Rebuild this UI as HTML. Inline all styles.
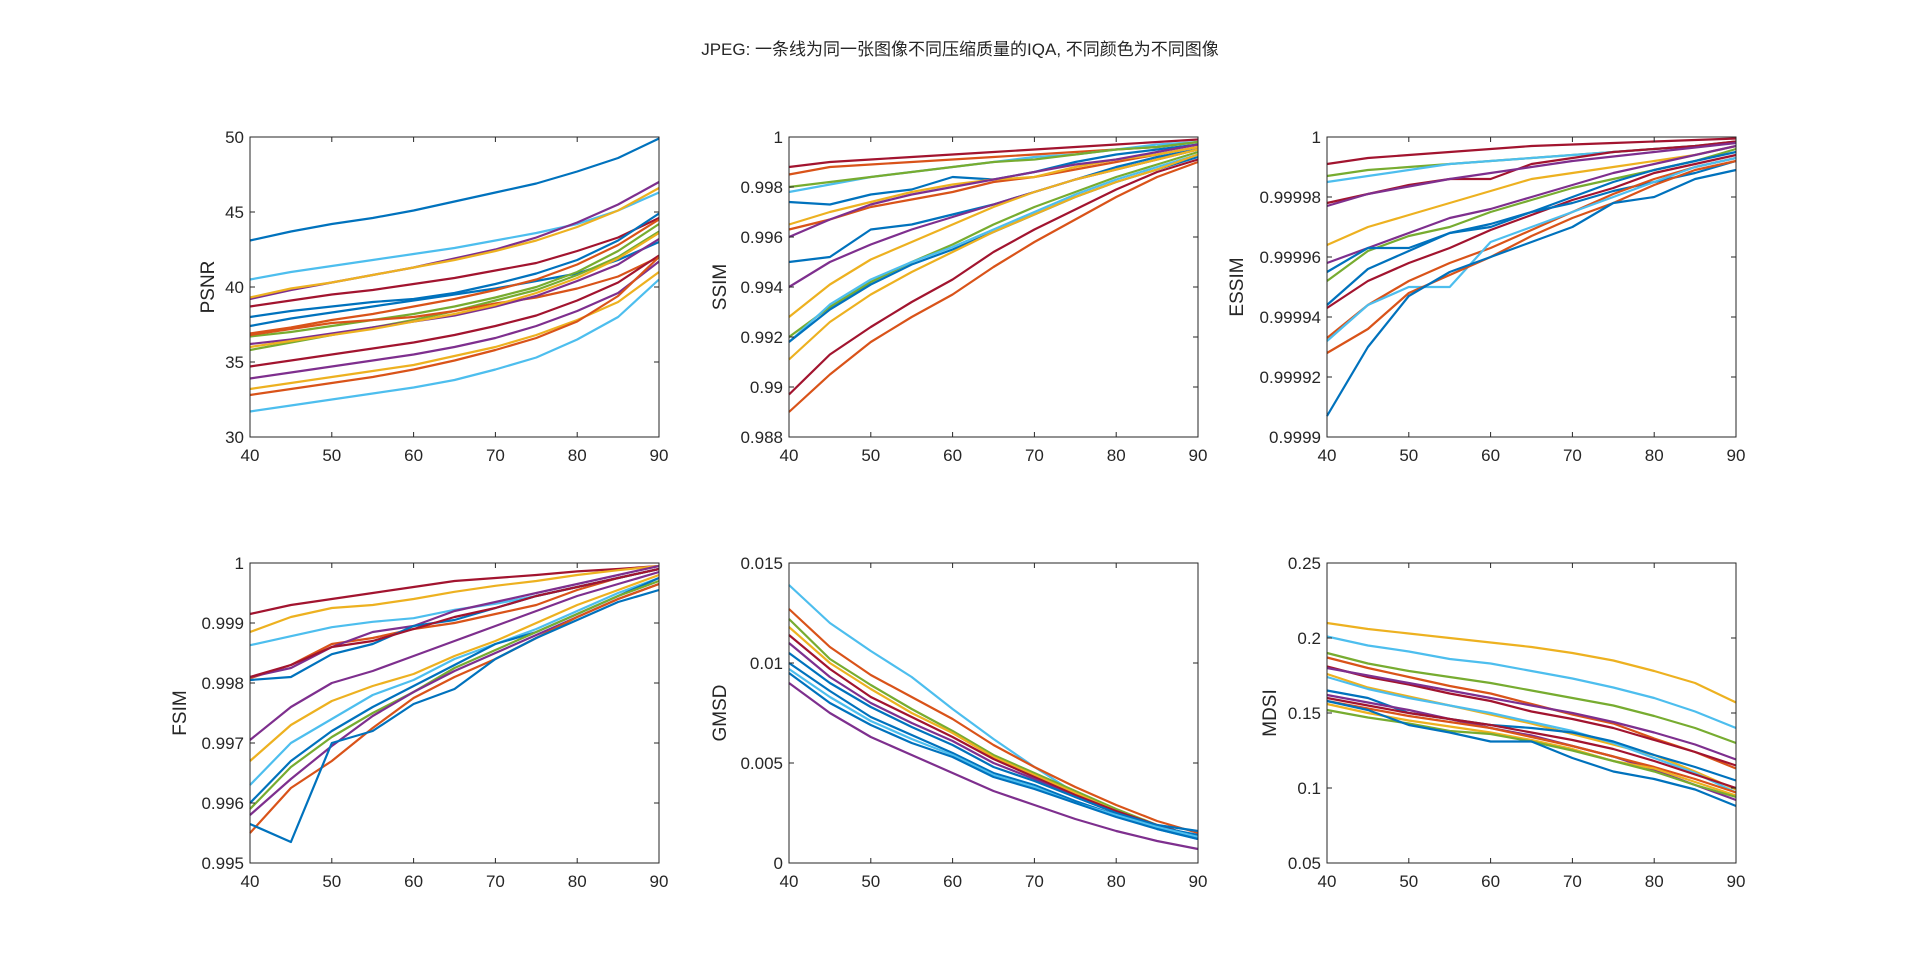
<!DOCTYPE html>
<html><head><meta charset="utf-8"><style>
html,body{margin:0;padding:0;background:#fff;}
svg text{font-family:"Liberation Sans","Noto Sans CJK SC",sans-serif;fill:#262626;}
</style></head><body>
<svg id="fig" width="1920" height="962">
<text x="960" y="55" font-size="17" text-anchor="middle">JPEG: 一条线为同一张图像不同压缩质量的IQA, 不同颜色为不同图像</text>
</svg>
<script>
const xQuality=[40,45,50,55,60,65,70,75,80,85,90];
const colors=['#0072BD','#D95319','#EDB120','#7E2F8E','#77AC30','#4DBEEE','#A2142F'];
const B='#0072BD',O='#D95319',Y='#EDB120',P='#7E2F8E',G='#77AC30',C='#4DBEEE',R='#A2142F';

const psnrColors=[B,C,P,Y,R,B,B,O,G,G,O,P,Y,R,P,Y,O,C];
const psnrSeries=[
[43.1,43.7,44.2,44.6,45.1,45.7,46.3,46.9,47.7,48.6,49.9],
[40.5,41.0,41.4,41.8,42.2,42.6,43.1,43.6,44.2,45.1,46.3],
[39.2,39.8,40.3,40.8,41.3,41.9,42.5,43.3,44.3,45.5,47.0],
[39.3,39.9,40.3,40.8,41.3,41.8,42.4,43.1,44.0,45.1,46.6],
[38.7,39.1,39.5,39.8,40.2,40.6,41.1,41.6,42.4,43.3,44.6],
[38.0,38.4,38.7,39.0,39.2,39.6,40.2,40.9,41.8,43.1,44.9],
[37.4,37.9,38.3,38.7,39.1,39.5,39.9,40.4,40.9,41.8,43.0],
[36.9,37.3,37.8,38.2,38.7,39.2,39.8,40.5,41.5,42.8,44.5],
[36.7,37.0,37.4,37.8,38.2,38.7,39.3,40.0,41.0,42.4,44.2],
[35.8,36.3,36.8,37.3,37.8,38.4,39.1,39.8,40.8,42.0,43.7],
[36.8,37.2,37.6,37.8,38.0,38.4,38.9,39.3,39.9,40.7,42.0],
[36.2,36.5,36.9,37.3,37.7,38.1,38.7,39.4,40.4,41.5,43.2],
[36.0,36.4,36.8,37.2,37.7,38.2,38.8,39.6,40.6,41.9,43.6],
[34.7,35.1,35.5,35.9,36.3,36.8,37.4,38.1,39.1,40.3,42.1],
[33.9,34.3,34.7,35.1,35.5,36.0,36.6,37.4,38.4,39.6,41.7],
[33.2,33.6,34.0,34.4,34.8,35.4,36.0,36.8,37.8,39.0,41.0],
[32.8,33.2,33.6,34.0,34.5,35.1,35.8,36.6,37.7,39.4,42.0],
[31.7,32.1,32.5,32.9,33.3,33.8,34.5,35.3,36.5,38.0,40.5]];
const psnrTicks=[30,35,40,45,50];
const psnrTickLabels=['30','35','40','45','50'];

const ssimColors=[R,O,C,B,G,O,Y,P,B,P,Y,G,C,B,Y,R,O];
const ssimSeries=[
[.9988,.9990,.9991,.9992,.9993,.9994,.9995,.9996,.9997,.9998,.9999],
[.9985,.9988,.9989,.9990,.9991,.9992,.9993,.9994,.9995,.9996,.9998],
[.9978,.9981,.9984,.9986,.9988,.9990,.9992,.9993,.9995,.9997,.9998],
[.9974,.9973,.9977,.9979,.9984,.9983,.9986,.9990,.9993,.9995,.9997],
[.9980,.9982,.9984,.9986,.9988,.9990,.9991,.9993,.9995,.9996,.9998],
[.9963,.9967,.9972,.9975,.9978,.9982,.9984,.9987,.9990,.9993,.9996],
[.9965,.9970,.9974,.9978,.9981,.9983,.9984,.9988,.9991,.9993,.9996],
[.9960,.9967,.9973,.9977,.9980,.9983,.9986,.9989,.9991,.9994,.9997],
[.9950,.9952,.9963,.9965,.9969,.9973,.9978,.9983,.9988,.9992,.9995],
[.9940,.9950,.9957,.9963,.9968,.9973,.9978,.9983,.9987,.9991,.9995],
[.9928,.9941,.9951,.9958,.9965,.9972,.9978,.9983,.9987,.9991,.9995],
[.9920,.9932,.9942,.9950,.9957,.9965,.9972,.9978,.9984,.9989,.9994],
[.9918,.9933,.9943,.9950,.9956,.9963,.9970,.9977,.9983,.9988,.9993],
[.9918,.9931,.9941,.9949,.9955,.9962,.9969,.9976,.9982,.9987,.9992],
[.9911,.9926,.9937,.9946,.9954,.9962,.9969,.9976,.9982,.9987,.9993],
[.9897,.9913,.9924,.9934,.9943,.9954,.9963,.9971,.9979,.9986,.9991],
[.9890,.9905,.9918,.9928,.9937,.9948,.9958,.9967,.9976,.9984,.9990]];
const ssimTicks=[.988,.99,.992,.994,.996,.998,1];
const ssimTickLabels=['0.988','0.99','0.992','0.994','0.996','0.998','1'];

const essimColors=[R,G,C,R,P,Y,P,G,B,R,B,O,C,O,B];
const essimSeries=[
[.999991,.999993,.999994,.999995,.999996,.999997,.9999975,.999998,.9999985,.999999,.9999995],
[.999987,.999989,.99999,.999991,.999992,.999993,.999994,.999995,.999996,.999997,.9999985],
[.999985,.999987,.999989,.999991,.999992,.999993,.999994,.999995,.999996,.999997,.999998],
[.999978,.999981,.999984,.999986,.999986,.999991,.999993,.999995,.999996,.999997,.9999985],
[.999977,.999981,.9999835,.999986,.999988,.99999,.999992,.9999935,.999995,.9999965,.999998],
[.999964,.99997,.999974,.999978,.999982,.999986,.999988,.99999,.999992,.999994,.999997],
[.999958,.999963,.999968,.999973,.999976,.99998,.999984,.999988,.999991,.999994,.999997],
[.999952,.999962,.999967,.99997,.999975,.999979,.999983,.999986,.999989,.999992,.999996],
[.999955,.999963,.999963,.999968,.999971,.999975,.99998,.999985,.999989,.999992,.999995],
[.999943,.999952,.999958,.999963,.999969,.999974,.999979,.999983,.999988,.999991,.999994],
[.999944,.999956,.999962,.999968,.99997,.999975,.999978,.999982,.999985,.999988,.999992],
[.999933,.999944,.999952,.999958,.999963,.999969,.999975,.999981,.999986,.99999,.999993],
[.999932,.999944,.99995,.99995,.999965,.99997,.999975,.99998,.999985,.99999,.999993],
[.999928,.999936,.999948,.999954,.99996,.999967,.999973,.999978,.999984,.999989,.999992],
[.999907,.99993,.999947,.999955,.99996,.999965,.99997,.999978,.99998,.999986,.999989]];
const essimTicks=[.9999,.99992,.99994,.99996,.99998,1];
const essimTickLabels=['0.9999','0.99992','0.99994','0.99996','0.99998','1'];

const fsimColors=[R,C,Y,O,P,B,R,P,Y,C,B,G,P,O,B];
const fsimSeries=[
[.99915,.9993,.9994,.9995,.9996,.9997,.99975,.9998,.99986,.9999,.99995],
[.99863,.99878,.99893,.99902,.99908,.99922,.99932,.99945,.9996,.99975,.9999],
[.99885,.9991,.99925,.9993,.9994,.99952,.99962,.9997,.9998,.99988,.99995],
[.99808,.9983,.99865,.99875,.9989,.999,.99915,.9993,.99955,.99975,.9999],
[.9981,.99825,.9986,.99885,.99895,.9992,.99935,.9995,.99965,.9998,.99995],
[.99805,.9981,.99848,.99865,.99895,.99905,.99925,.99945,.9996,.99975,.9999],
[.9981,.9983,.9986,.9987,.9989,.9991,.99925,.99945,.9996,.99975,.9999],
[.99705,.9976,.998,.9982,.99845,.9987,.99895,.9992,.99945,.99965,.99985],
[.9967,.9973,.9977,.99795,.99815,.99845,.9987,.999,.9993,.99955,.9998],
[.9963,.997,.9974,.9978,.99805,.9984,.99865,.9989,.9992,.9995,.99975],
[.996,.9967,.9972,.9976,.99795,.9983,.99865,.99885,.99915,.99945,.99975],
[.9959,.9966,.9971,.9975,.99785,.99825,.99855,.99885,.99915,.99945,.9997],
[.9958,.9964,.99695,.99745,.99785,.9982,.9985,.9988,.9991,.9994,.99965],
[.9955,.99625,.9967,.99725,.99775,.9981,.9984,.99875,.9991,.9994,.99965],
[.99565,.99535,.997,.9972,.99765,.9979,.9984,.99875,.99905,.99935,.99955]];
const fsimTicks=[.995,.996,.997,.998,.999,1];
const fsimTickLabels=['0.995','0.996','0.997','0.998','0.999','1'];

const gmsdColors=[C,O,G,Y,R,P,B,B,C,B,P];
const gmsdSeries=[
[.0139,.0120,.0106,.0093,.0077,.0062,.0048,.0035,.0025,.0017,.0012],
[.0127,.0108,.0094,.0083,.0072,.0059,.0048,.0038,.0029,.0021,.0015],
[.0122,.0102,.0089,.0077,.0066,.0054,.0045,.0036,.0027,.0019,.0013],
[.0118,.0100,.0087,.0075,.0065,.0053,.0044,.0035,.0026,.0019,.0013],
[.0114,.0097,.0083,.0073,.0063,.0052,.0043,.0034,.0026,.0019,.0013],
[.0110,.0093,.0080,.0070,.0061,.0050,.0042,.0033,.0025,.0018,.0012],
[.0105,.0090,.0078,.0068,.0059,.0048,.0041,.0033,.0025,.0019,.0016],
[.0100,.0086,.0073,.0064,.0055,.0045,.0039,.0031,.0024,.0018,.0014],
[.0097,.0083,.0071,.0062,.0054,.0044,.0038,.0030,.0024,.0018,.0013],
[.0095,.0080,.0069,.0060,.0053,.0043,.0037,.0030,.0023,.0017,.0012],
[.0090,.0075,.0063,.0054,.0045,.0036,.0029,.0022,.0016,.0011,.0007]];
const gmsdTicks=[0,.005,.01,.015];
const gmsdTickLabels=['0','0.005','0.01','0.015'];

const mdsiColors=[Y,C,G,O,R,P,Y,C,B,P,R,O,Y,G,B];
const mdsiSeries=[
[.210,.206,.203,.200,.197,.194,.190,.185,.178,.170,.157],
[.201,.195,.191,.186,.183,.178,.173,.167,.160,.151,.140],
[.190,.183,.178,.174,.170,.165,.160,.155,.148,.140,.130],
[.187,.180,.174,.168,.163,.156,.149,.143,.133,.124,.113],
[.181,.174,.169,.163,.158,.151,.146,.140,.132,.124,.115],
[.180,.175,.170,.165,.160,.155,.150,.144,.137,.129,.119],
[.176,.167,.161,.155,.149,.143,.136,.129,.122,.111,.099],
[.174,.166,.160,.155,.150,.144,.138,.130,.120,.110,.097],
[.165,.160,.150,.146,.142,.140,.137,.131,.122,.114,.105],
[.162,.157,.152,.146,.140,.135,.128,.121,.112,.102,.092],
[.160,.155,.150,.146,.142,.137,.132,.126,.118,.109,.100],
[.158,.153,.148,.144,.140,.134,.128,.121,.114,.106,.097],
[.156,.150,.145,.141,.137,.132,.126,.118,.113,.104,.095],
[.152,.147,.143,.138,.136,.131,.125,.118,.111,.102,.094],
[.158,.152,.142,.137,.131,.131,.120,.111,.106,.099,.088]];
const mdsiTicks=[.05,.1,.15,.2,.25];
const mdsiTickLabels=['0.05','0.1','0.15','0.2','0.25'];

const xTicks=[40,50,60,70,80,90];
const xTickLabels=['40','50','60','70','80','90'];

const NS='http://www.w3.org/2000/svg';
const svg=document.getElementById('fig');
function mk(tag,attrs,parent){const e=document.createElementNS(NS,tag);for(const k in attrs)e.setAttribute(k,attrs[k]);(parent||svg).appendChild(e);return e;}

function panel(name,L,T,W,H,yMin,yMax,yT,yTL,series,cols,labelOff){
  const g=mk('g',{});
  
  
  const sx=v=>L+(v-40)/(90-40)*W;
  const sy=v=>T+H-(v-yMin)/(yMax-yMin)*H;
  const lg=mk('g',{},g);
  
  
  series.forEach((s,i)=>{
    const d=s.map((v,j)=>(j?'L':'M')+sx(xQuality[j]).toFixed(1)+' '+sy(v).toFixed(1)).join(' ');
    const p=mk('path',{d:d,fill:'none',stroke:cols[i],'stroke-width':2.2,'stroke-linejoin':'round'},lg);
    
    
  });
  const box=mk('rect',{x:L,y:T,width:W,height:H,fill:'none',stroke:'#262626','stroke-width':1},g);
  
  
  xTicks.forEach((t,i)=>{
    const x=sx(t);
    mk('line',{x1:x,x2:x,y1:T+H,y2:T+H-5,stroke:'#262626'},g);
    mk('line',{x1:x,x2:x,y1:T,y2:T+5,stroke:'#262626'},g);
    const tx=mk('text',{x:x,y:T+H+24,'font-size':17,'text-anchor':'middle'},g);
    tx.textContent=xTickLabels[i];
    
    
  });
  yT.forEach((t,i)=>{
    const y=sy(t);
    mk('line',{x1:L,x2:L+5,y1:y,y2:y,stroke:'#262626'},g);
    mk('line',{x1:L+W,x2:L+W-5,y1:y,y2:y,stroke:'#262626'},g);
    const tx=mk('text',{x:L-6,y:y+6,'font-size':17,'text-anchor':'end'},g);
    tx.textContent=yTL[i];
    
    
  });
  const yl=mk('text',{x:0,y:0,'font-size':19,'text-anchor':'middle',transform:'translate('+(L-labelOff)+','+(T+H/2)+') rotate(-90)'},g);
  yl.textContent=name.toUpperCase();
  
  
}
const c1=250,c2=789,c3=1327,W=409,r1=137,r2=563,H=300;
panel('psnr',c1,r1,W,H,30,50,psnrTicks,psnrTickLabels,psnrSeries,psnrColors,36);
panel('ssim',c2,r1,W,H,.988,1,ssimTicks,ssimTickLabels,ssimSeries,ssimColors,63);
panel('essim',c3,r1,W,H,.9999,1,essimTicks,essimTickLabels,essimSeries,essimColors,84);
panel('fsim',c1,r2,W,H,.995,1,fsimTicks,fsimTickLabels,fsimSeries,fsimColors,64);
panel('gmsd',c2,r2,W,H,0,.015,gmsdTicks,gmsdTickLabels,gmsdSeries,gmsdColors,63);
panel('mdsi',c3,r2,W,H,.05,.25,mdsiTicks,mdsiTickLabels,mdsiSeries,mdsiColors,51);
</script>
</body></html>
